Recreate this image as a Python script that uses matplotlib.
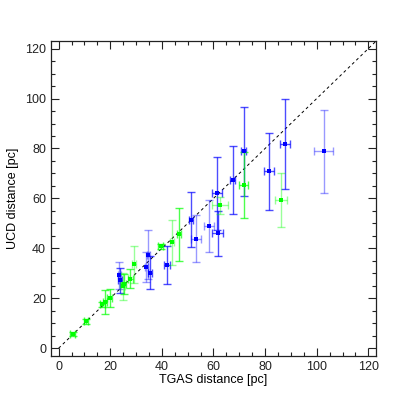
import numpy as np
import matplotlib
matplotlib.use("Agg")
import matplotlib.pyplot as plt
from matplotlib.ticker import MultipleLocator

# UCD vs TGAS distances (pc)
green_tgas = [5.4, 10.6, 17.0, 18.0, 19.8, 24.8, 25.2, 27.8, 29.2, 39.5, 44.0, 46.7, 62.5, 71.7, 86.1]
green_tgas_err = [0.8, 0.8, 0.8, 0.8, 0.9, 1.0, 1.0, 1.0, 0.8, 1.0, 0.8, 0.8, 3.2, 1.8, 2.2]
green_ucd = [5.7, 10.8, 17.6, 18.5, 20.2, 24.8, 25.8, 27.8, 33.6, 40.8, 42.4, 45.6, 57.2, 65.5, 59.5]
green_ucd_err = [0.9, 0.9, 1.0, 4.8, 3.5, 5.5, 4.0, 3.8, 7.5, 1.0, 9.0, 10.5, 3.4, 13.2, 10.8]

blue_tgas = [23.5, 23.8, 34.7, 34.0, 35.4, 42.0, 51.2, 53.2, 58.3, 61.6, 61.5, 67.5, 71.7, 81.5, 87.8, 102.7]
blue_tgas_err = [0.6, 0.6, 0.6, 0.6, 0.6, 1.3, 0.8, 1.8, 1.9, 2.0, 1.9, 1.0, 1.0, 1.8, 1.9, 3.7]
blue_ucd = [29.2, 27.3, 37.5, 32.6, 30.3, 33.3, 51.4, 43.9, 48.9, 46.1, 62.0, 67.4, 78.8, 70.8, 81.8, 78.8]
blue_ucd_err = [5.5, 5.0, 9.7, 6.0, 6.5, 7.5, 11.0, 9.5, 10.5, 9.0, 14.7, 13.5, 18.0, 15.4, 18.1, 16.5]

# which points are drawn with the paler error bars
green_faint = [5, 8, 10, 12, 14]
blue_faint = [0, 2, 3, 7, 8, 15]

plt.rcParams['font.family'] = ['Liberation Sans', 'DejaVu Sans']

fig = plt.figure(figsize=(4.07, 4.07), dpi=100)
ax = fig.add_axes([0.125, 0.126, 0.799, 0.773])

ax.plot([0, 123], [0, 123], color='k', ls=(0, (3, 3)), lw=0.7, zorder=1)


def draw(xs, xe, ys, ye, color, faint):
    for i in range(len(xs)):
        a = 0.4 if i in faint else 0.7
        ax.errorbar(xs[i], ys[i], xerr=xe[i], yerr=ye[i], fmt='none',
                    ecolor=color, alpha=a, elinewidth=1.0, capsize=3, capthick=1.0, zorder=2)
        ax.plot(xs[i], ys[i], 's', color=color, ms=3, mew=0, zorder=3)


draw(blue_tgas, blue_tgas_err, blue_ucd, blue_ucd_err, (0, 0, 1), blue_faint)
draw(green_tgas, green_tgas_err, green_ucd, green_ucd_err, (0, 1, 0), green_faint)

ax.set_xlim(-3, 123)
ax.set_ylim(-3, 123)
ax.xaxis.set_major_locator(MultipleLocator(20))
ax.yaxis.set_major_locator(MultipleLocator(20))
ax.xaxis.set_minor_locator(MultipleLocator(5))
ax.yaxis.set_minor_locator(MultipleLocator(5))
ax.tick_params(which='both', direction='in', top=True, right=True, labelsize=9, width=0.8, colors='#222222')
ax.tick_params(which='major', length=6)
ax.tick_params(which='minor', length=3)
for s in ax.spines.values():
    s.set_linewidth(0.9)
    s.set_color('#222222')

ax.set_xlabel('TGAS distance [pc]', fontsize=9, labelpad=1)
ax.set_ylabel('UCD distance [pc]', fontsize=9, labelpad=4)

fig.savefig('out.png', dpi=100)
